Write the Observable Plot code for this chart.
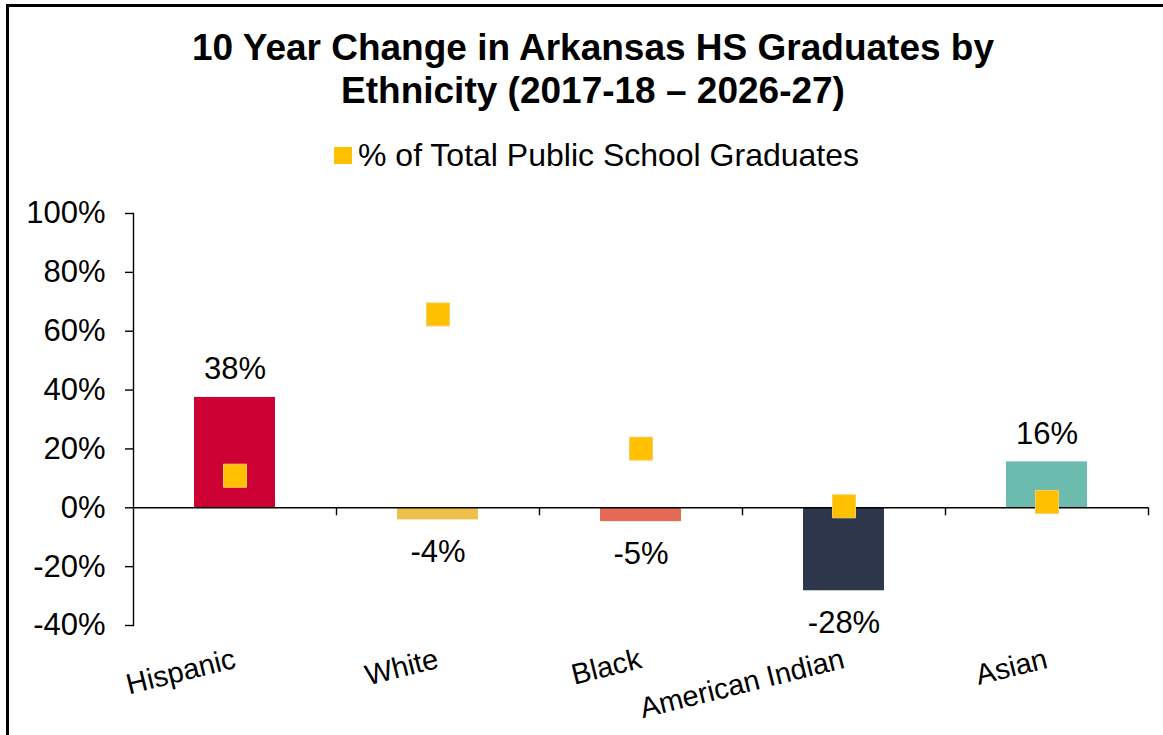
<!DOCTYPE html>
<html>
<head>
<meta charset="utf-8">
<script src="https://cdn.jsdelivr.net/npm/d3@7"></script>
<script src="https://cdn.jsdelivr.net/npm/@observablehq/plot@0.6"></script>
<style>
  html, body { margin: 0; padding: 0; background: #fff; }
  body { width: 1163px; height: 735px; position: relative; overflow: hidden;
         font-family: "Liberation Sans", Arial, sans-serif; color: #000; }
  #frame { position: absolute; left: 6px; top: 4px; width: 1200px; height: 800px;
           border-top: 3px solid #000; border-left: 3px solid #000; box-sizing: border-box; }
  #title { position: absolute; left: 93px; top: 26px; width: 1000px; text-align: center;
           font-weight: bold; font-size: 37px; line-height: 43px; }
  #legend { position: absolute; left: 334px; top: 137px; font-size: 32px; line-height: 37px; white-space: nowrap; }
  #legend .sw { display: inline-block; width: 18px; height: 17px; background: #FFC000;
                margin-right: 6px; position: relative; top: -2px; }
  #chart { position: absolute; left: 0; top: 180px; }
</style>
</head>
<body>
<div id="frame"></div>
<div id="title">10 Year Change in Arkansas HS Graduates by<br>Ethnicity (2017-18 – 2026-27)</div>
<div id="legend"><span class="sw"></span>% of Total Public School Graduates</div>
<div id="chart"></div>
<script>
const categories = ["Hispanic", "White", "Black", "American Indian", "Asian"];
const tenYearChange = [0.375, -0.041, -0.047, -0.282, 0.156];
const changeLabels = ["38%", "-4%", "-5%", "-28%", "16%"];
const shareOfTotal = [0.109, 0.657, 0.201, 0.005, 0.020];
const barColors = ["#CC0033", "#F0BE4B", "#E46B55", "#2E364C", "#6BBBAE"];
const yTicks = [-0.4, -0.2, 0, 0.2, 0.4, 0.6, 0.8, 1.0];

const data = categories.map((c, i) => ({
  category: c, change: tenYearChange[i], label: changeLabels[i],
  share: shareOfTotal[i], color: barColors[i]
}));

const W = 1163, H = 555, ML = 133, MR = 15, MT = 33, MB = 110;
const step = (W - ML - MR) / categories.length;
const barW = 81;
const FONT = "Liberation Sans, Arial, sans-serif";
const pct = d => d3.format(".0%")(d).replace("\u2212", "-");

const chart = Plot.plot({
  width: W, height: H,
  marginLeft: ML, marginRight: MR, marginTop: MT, marginBottom: MB,
  style: { fontFamily: FONT, color: "#000", background: "transparent", overflow: "visible" },
  x: { type: "band", domain: categories, padding: 0, axis: null },
  y: { domain: [-0.4, 1.0], axis: null },
  marks: [
    Plot.barY(data, { x: "category", y: "change", fill: "color",
      insetLeft: (step - barW) / 2, insetRight: (step - barW) / 2 }),
    Plot.ruleY([0], { stroke: "#000", strokeWidth: 1.4 }),
    Plot.frame({ anchor: "left", stroke: "#000", strokeWidth: 1.4 }),
    Plot.ruleX(categories, { x: d => d, y1: 0, y2: 0, dx: step / 2, insetBottom: -8,
      stroke: "#000", strokeWidth: 1.4 }),
    Plot.axisY({ ticks: yTicks, tickFormat: pct, tickSize: 8, tickPadding: 20,
      fontSize: 31, stroke: "#000", strokeWidth: 1.4, fill: "#000" }),
    Plot.text(data.filter(d => d.change >= 0), { x: "category", y: "change", text: "label",
      lineAnchor: "bottom", dy: -18, fontSize: 31, fill: "#000" }),
    Plot.text(data.filter(d => d.change < 0), { x: "category", y: "change", text: "label",
      lineAnchor: "top", dy: 20, fontSize: 31, fill: "#000" }),
    Plot.dot(data, { x: "category", y: "share", symbol: "square", r: 13,
      fill: "#FFC000", stroke: "#F7CE63", strokeWidth: 1 }),
    Plot.text(categories, { x: d => d, frameAnchor: "bottom", text: d => d,
      rotate: -14, textAnchor: "end", lineAnchor: "bottom", dx: 2, dy: 42,
      fontSize: 29, fill: "#000" })
  ]
});
document.getElementById("chart").appendChild(chart);
</script>
</body>
</html>
